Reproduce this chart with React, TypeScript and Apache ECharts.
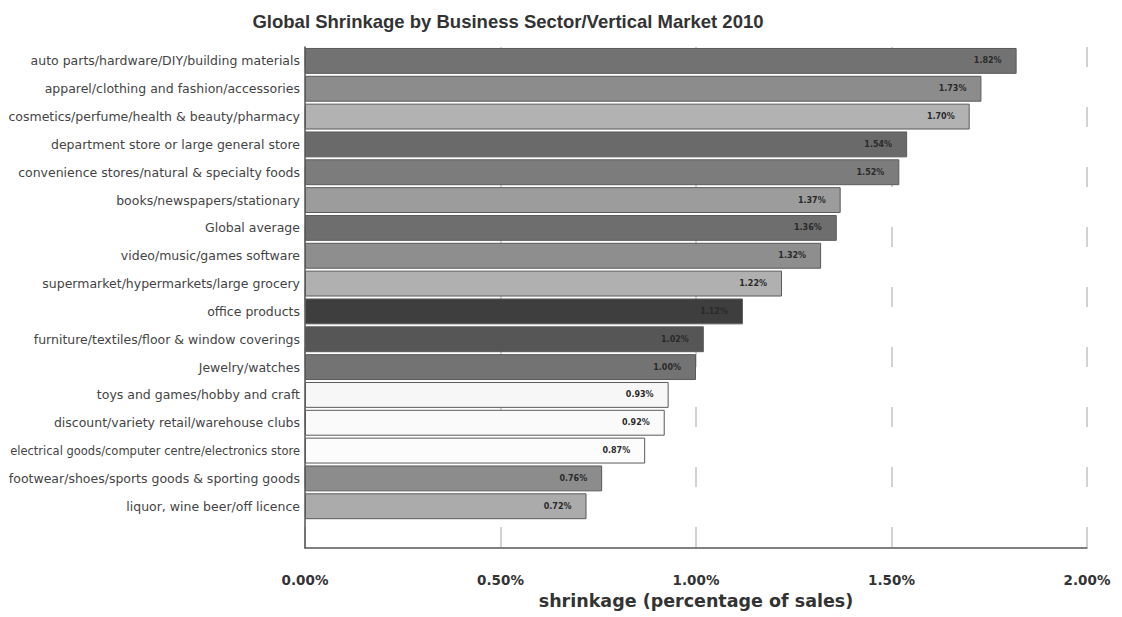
import React, { useEffect, useRef } from "react";
import * as echarts from "echarts";

const categories = [
  "auto parts/hardware/DIY/building materials",
  "apparel/clothing and fashion/accessories",
  "cosmetics/perfume/health & beauty/pharmacy",
  "department store or large general store",
  "convenience stores/natural & specialty foods",
  "books/newspapers/stationary",
  "Global average",
  "video/music/games software",
  "supermarket/hypermarkets/large grocery",
  "office products",
  "furniture/textiles/floor & window coverings",
  "Jewelry/watches",
  "toys and games/hobby and craft",
  "discount/variety retail/warehouse clubs",
  "electrical goods/computer centre/electronics store",
  "footwear/shoes/sports goods & sporting goods",
  "liquor, wine beer/off licence",
  "",
];

const values = [1.82, 1.73, 1.7, 1.54, 1.52, 1.37, 1.36, 1.32, 1.22, 1.12, 1.02, 1.0, 0.93, 0.92, 0.87, 0.76, 0.72];

const barColors = [
  "#727272", "#8c8c8c", "#b2b2b2", "#6a6a6a", "#7c7c7c", "#9c9c9c",
  "#6e6e6e", "#8e8e8e", "#b0b0b0", "#3e3e3e", "#565656", "#737373",
  "#f7f7f7", "#fafafa", "#fcfcfc", "#8c8c8c", "#ababab",
];

const xTicks = [0, 0.5, 1.0, 1.5, 2.0];

export default function App() {
  const ref = useRef<HTMLDivElement>(null);
  useEffect(() => {
    if (!ref.current) return;
    const chart = echarts.init(ref.current, null, { renderer: "svg" });
    const font = "'DejaVu Sans', sans-serif";
    chart.setOption({
      animation: false,
      backgroundColor: "#ffffff",
      title: {
        text: "Global Shrinkage by Business Sector/Vertical Market 2010",
        left: 503,
        textAlign: "center",
        top: 7,
        textStyle: {
          fontFamily: "'Liberation Sans', Arial, sans-serif",
          fontSize: 18.5,
          fontWeight: "bold",
          color: "#333333",
        },
      },
      grid: { left: 305, right: 35, top: 47, bottom: 69, containLabel: false },
      xAxis: {
        type: "value",
        min: 0,
        max: 2,
        interval: 0.5,
        name: "shrinkage (percentage of sales)",
        nameLocation: "middle",
        nameGap: 42,
        nameTextStyle: {
          fontFamily: font,
          fontSize: 17.5,
          fontWeight: "bold",
          color: "#333333",
        },
        axisLine: { show: true, lineStyle: { color: "#555555", width: 1.5 } },
        axisTick: { show: false },
        axisLabel: {
          margin: 25,
          fontFamily: font,
          fontSize: 13.5,
          fontWeight: "bold",
          color: "#333333",
          formatter: (v: number) => (xTicks.includes(v) ? v.toFixed(2) + "%" : ""),
        },
        splitLine: {
          show: true,
          lineStyle: { color: "#c4c4c4", width: 1.5, type: [20, 40] },
        },
      },
      yAxis: {
        type: "category",
        inverse: true,
        data: categories.map((c, i) =>
          i === 14 ? { value: c, textStyle: { fontSize: 11.5 } } : c
        ),
        axisLine: { show: true, lineStyle: { color: "#555555", width: 1.5 } },
        axisTick: { show: false },
        axisLabel: {
          margin: 5,
          fontFamily: font,
          fontSize: 12.5,
          color: "#444444",
        },
        splitLine: { show: false },
      },
      series: [
        {
          type: "bar",
          barCategoryGap: "7%",
          data: values.map((v, i) => ({
            value: v,
            itemStyle: { color: barColors[i], borderColor: "#5a5a5a", borderWidth: 1 },
          })),
          label: {
            show: true,
            position: "insideRight",
            distance: 15,
            fontFamily: font,
            fontSize: 8,
            fontWeight: "bold",
            color: "#2a2a2a",
            formatter: (p: any) => p.value.toFixed(2) + "%",
          },
        },
      ],
    });
    return () => chart.dispose();
  }, []);
  return (
    <div
      ref={ref}
      style={{ position: "fixed", left: 0, top: 0, width: 1122, height: 617 }}
    />
  );
}
